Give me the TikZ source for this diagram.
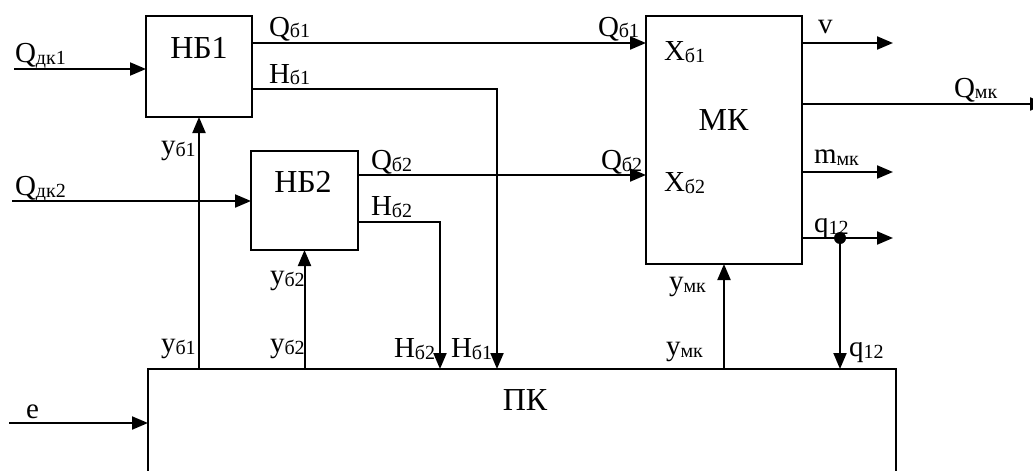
\documentclass[tikz,border=0pt]{standalone}
\usepackage{fontspec}
\setmainfont{Liberation Serif}
\usetikzlibrary{positioning,arrows.meta}

% small lowered index
\newcommand{\ix}[1]{\raisebox{-1pt}{\fontsize{10}{11}\selectfont #1}}

\begin{document}
\begin{tikzpicture}[%
    x=0.5pt, y=-0.5pt,
    >={Triangle[length=8pt, width=6.5pt]},
    line width=1pt,
    every node/.style={font=\fontsize{14.5}{16}\selectfont},
    blk/.style={draw, rectangle, inner sep=0pt, outer sep=0pt},
    lbl/.style={anchor=base west, inner sep=0pt},
    title/.style={anchor=base, inner sep=0pt, font=\fontsize{16}{18}\selectfont}
]
\useasboundingbox (0,0) rectangle (1033,471);
\clip (0,0) rectangle (1033,471);

% blocks
\node[blk, minimum width=53pt, minimum height=50.5pt] (nb1) at (199,66.5) {};
\node[blk, minimum width=53.5pt, minimum height=49.5pt] (nb2) at (304.5,200.5) {};
\node[blk, minimum width=78pt, minimum height=124pt] (mk) at (724,140) {};
\node[blk, minimum width=374pt, minimum height=55.5pt] (pk) at (522,424.5) {};

\node[title] (tnb1) at (199,58) {НБ1};
\node[title] (tnb2) at (303,192) {НБ2};
\node[title] (tmk) at (723.5,130) {МК};
\node[title] (tpk) at (525,410) {ПК};

% inputs
\coordinate (qdk1) at (14,69);
\coordinate (qdk2) at (12,201);
\coordinate (ein) at (9,423);
\draw[->] (qdk1) -- (nb1.west |- qdk1);
\draw[->] (qdk2) -- (nb2.west |- qdk2);
\draw[->] (ein) -- (pk.west |- ein);
\node[lbl] (lqdk1) at (14,62) {Q\ix{дк1}};
\node[lbl] (lqdk2) at (14,195) {Q\ix{дк2}};
\node[lbl] (le) at (25,418) {e};

% outputs of НБ1 and НБ2
\coordinate (hb1) at (497,89);
\coordinate (hb2) at (440,222);
\draw[->] (nb1.east |- 0,43) -- (mk.west |- 0,43);
\draw[->] (nb1.east |- hb1) -| (pk.north -| hb1);
\draw[->] (nb2.east |- 0,175) -- (mk.west |- 0,175);
\draw[->] (nb2.east |- hb2) -| (pk.north -| hb2);
\node[lbl] (lqb1) at (268,36) {Q\ix{б1}};
\node[lbl] (lhb1) at (268,83) {H\ix{б1}};
\node[lbl] (lqb2) at (370,169) {Q\ix{б2}};
\node[lbl] (lhb2) at (370,215) {H\ix{б2}};
\node[lbl] (lhb2pk) at (393,357) {H\ix{б2}};
\node[lbl] (lhb1pk) at (450,357) {H\ix{б1}};

% control lines from ПК
\draw[->] (pk.north -| nb1.south) -- (nb1.south);
\draw[->] (pk.north -| nb2.south) -- (nb2.south);
\draw[->] (pk.north -| mk.south) -- (mk.south);
\node[lbl] (lyb1) at (160,154) {у\ix{б1}};
\node[lbl] (lyb1pk) at (160,352) {у\ix{б1}};
\node[lbl] (lyb2) at (269,284) {у\ix{б2}};
\node[lbl] (lyb2pk) at (269,352) {у\ix{б2}};
\node[lbl] (lymk) at (668,290) {у\ix{мк}};
\node[lbl] (lymkpk) at (665,355) {у\ix{мк}};

% inputs of МК
\node[lbl] (lqb1mk) at (597,36) {Q\ix{б1}};
\node[lbl] (lqb2mk) at (600,169) {Q\ix{б2}};
\node[lbl] (lxb1) at (663,61) {X\ix{б1}};
\node[lbl] (lxb2) at (663,191) {X\ix{б2}};

% outputs of МК
\coordinate (vout) at (893,43);
\coordinate (qmkout) at (1046,104);
\coordinate (mout) at (893,172);
\coordinate (qout) at (893,238);
\coordinate (qdot) at (840,238);
\draw[->] (mk.east |- vout) -- (vout);
\draw[->] (mk.east |- qmkout) -- (qmkout);
\draw[->] (mk.east |- mout) -- (mout);
\draw[->] (mk.east |- qout) -- (qout);
\fill (qdot) circle (3pt);
\draw[->] (qdot) -- (pk.north -| qdot);
\node[lbl] (lv) at (817,33) {v};
\node[lbl] (lqmk) at (953,97) {Q\ix{мк}};
\node[lbl] (lmmk) at (813,163) {m\ix{мк}};
\node[lbl] (lq12) at (813,232) {q\ix{12}};
\node[lbl] (lq12pk) at (848,356) {q\ix{12}};

\end{tikzpicture}
\end{document}
